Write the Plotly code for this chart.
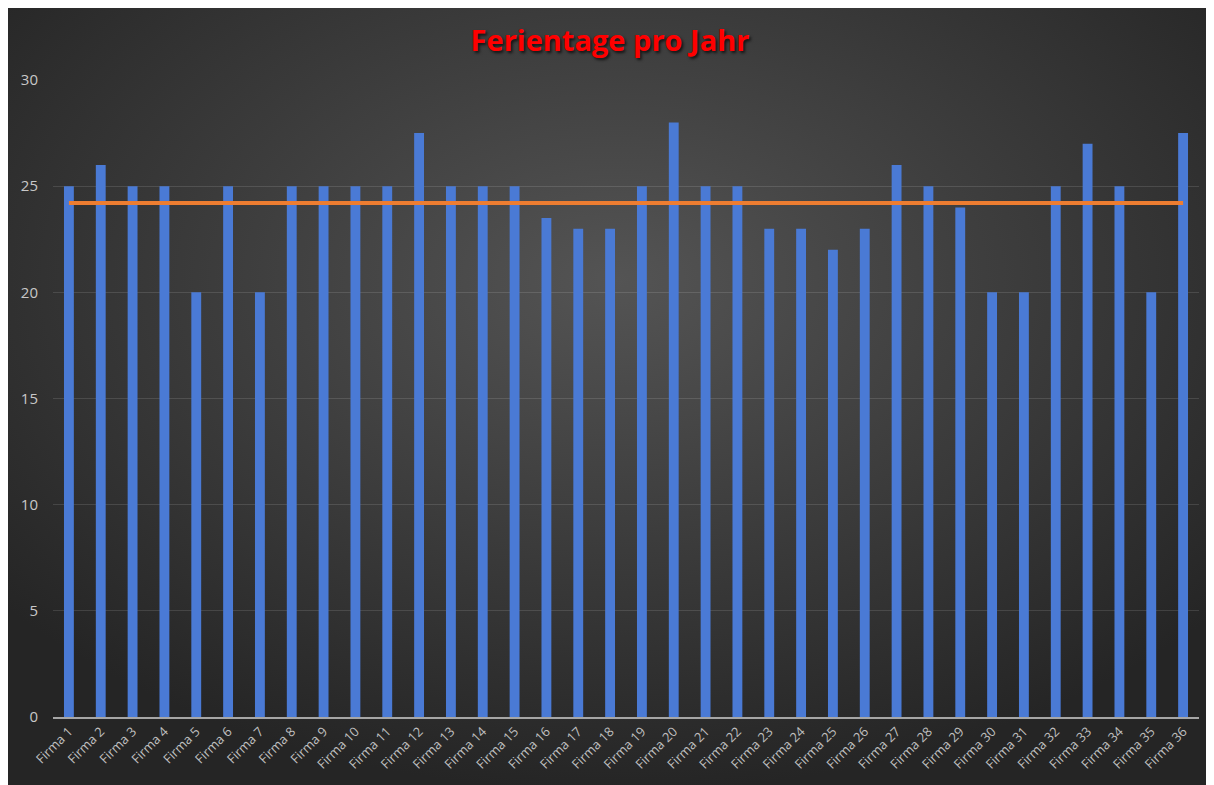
import base64
import plotly.graph_objects as go

categories = [f"Firma {i}" for i in range(1, 37)]
ferientage = [25, 26, 25, 25, 20, 25, 20, 25, 25, 25, 25, 27.5,
              25, 25, 25, 23.5, 23, 23, 25, 28, 25, 25, 23, 23,
              22, 23, 26, 25, 24, 20, 20, 25, 27, 25, 20, 27.5]
durchschnitt = 24.21
avg_line = [durchschnitt] * len(categories)
y_ticks = [0, 5, 10, 15, 20, 25, 30]

FW, FH = 1240, 800
svg = f"""<svg xmlns='http://www.w3.org/2000/svg' width='{FW}' height='{FH}' viewBox='0 0 {FW} {FH}' preserveAspectRatio='none'>
<defs><radialGradient id='g' cx='49%' cy='34%' r='64%' fx='49%' fy='34%'>
<stop offset='0%' stop-color='#545454'/><stop offset='55%' stop-color='#3a3a3a'/><stop offset='100%' stop-color='#252525'/>
</radialGradient></defs><rect width='{FW}' height='{FH}' fill='url(#g)'/></svg>"""
bg_src = "data:image/svg+xml;base64," + base64.b64encode(svg.encode()).decode()

L, T, W, H = 45, 72, 1146, 637

fig = go.Figure()
fig.add_trace(go.Bar(
    x=categories, y=ferientage,
    marker=dict(color="#4a7ad5", line=dict(width=0)),
    name="Ferientage",
))
fig.add_trace(go.Scatter(
    x=categories, y=avg_line, mode="lines",
    line=dict(color="#ed7d31", width=4),
    name="Durchschnitt",
))

fig.update_layout(
    width=FW, height=FH,
    margin=dict(l=L, r=FW - L - W, t=T, b=FH - T - H),
    paper_bgcolor="#2a2a2a",
    plot_bgcolor="rgba(0,0,0,0)",
    showlegend=False,
    bargap=0.69,
    title=dict(
        text="<b>Ferientage pro Jahr</b>",
        x=602 / FW, xanchor="center", xref="container",
        y=1 - 33 / FH, yanchor="middle", yref="container",
        font=dict(family="Open Sans", size=29, color="#ff0000",
                  shadow="2px 2px 3px rgba(0,0,0,0.7)"),
    ),
    images=[dict(
        source=bg_src, xref="paper", yref="paper",
        x=-L / W, y=(T + H) / H,
        sizex=FW / W, sizey=FH / H,
        xanchor="left", yanchor="top", sizing="stretch", layer="below",
    )],
    xaxis=dict(
        tickangle=-45,
        tickfont=dict(family="Open Sans", size=13, color="#bfbfbf"),
        showline=True, linecolor="#a6a6a6", linewidth=1.5,
        showgrid=False, ticks="", fixedrange=True,
    ),
    yaxis=dict(
        range=[0, 30], tickvals=y_ticks,
        tickfont=dict(family="Open Sans", size=15, color="#c8c8c8"),
        gridcolor="rgba(255,255,255,0.12)", gridwidth=1,
        zeroline=False, showline=False, ticks="",
        ticklabelstandoff=14,
    ),
)

fig.write_html("out.html")
